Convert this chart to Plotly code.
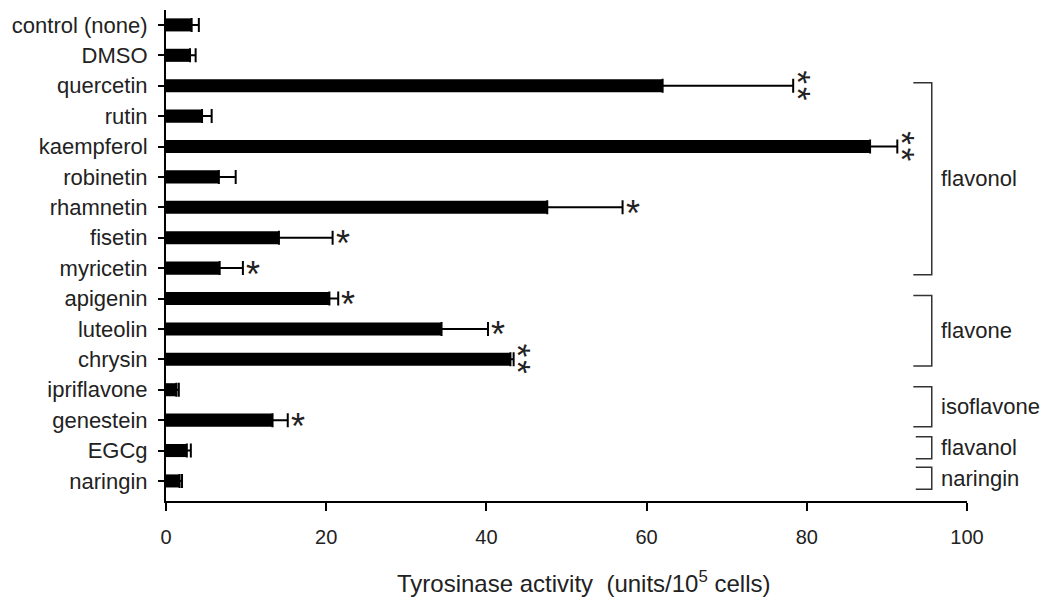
import plotly.graph_objects as go

categories = ["control (none)", "DMSO", "quercetin", "rutin", "kaempferol", "robinetin",
              "rhamnetin", "fisetin", "myricetin", "apigenin", "luteolin", "chrysin",
              "ipriflavone", "genestein", "EGCg", "naringin"]
values = [3.2, 3.0, 62.0, 4.5, 87.9, 6.6, 47.6, 14.1, 6.7, 20.4, 34.4, 43.0, 1.3, 13.3, 2.6, 1.7]
errors = [0.9, 0.7, 16.3, 1.2, 3.4, 2.1, 9.4, 6.7, 2.9, 1.1, 5.8, 0.4, 0.3, 1.9, 0.5, 0.3]
stars = [0, 0, 2, 0, 2, 0, 1, 1, 1, 1, 1, 2, 0, 1, 0, 0]
groups = [("flavonol", "quercetin", "myricetin"),
          ("flavone", "apigenin", "chrysin"),
          ("isoflavone", "ipriflavone", "genestein"),
          ("flavanol", "EGCg", "EGCg"),
          ("naringin", "naringin", "naringin")]
x_ticks = [0, 20, 40, 60, 80, 100]
x_title = "Tyrosinase activity  (units/10<sup>5</sup> cells)"

FONT = "Liberation Sans, Arial, sans-serif"
TXT = "#222222"
STAR = 36
n = len(categories)
pos = list(range(n))

fig = go.Figure()
fig.add_trace(go.Bar(
    orientation="h", y=pos, x=values, width=0.43,
    marker=dict(color="black", line=dict(width=0)),
    error_x=dict(type="data", symmetric=False, array=errors, arrayminus=[0] * n,
                 color="black", thickness=2, width=7),
    showlegend=False, hoverinfo="skip",
))

annotations = []
for i in range(n):
    end = values[i] + errors[i]
    if stars[i] == 1:
        annotations.append(dict(x=end, y=pos[i], xref="x", yref="y", text="*",
                                showarrow=False, xanchor="center", xshift=10, yshift=-6,
                                font=dict(family=FONT, size=STAR, color=TXT)))
    elif stars[i] == 2:
        annotations.append(dict(x=end, y=pos[i], xref="x", yref="y", text="*\u200a*",
                                showarrow=False, xanchor="center", yanchor="middle",
                                textangle=90, xshift=5, yshift=0,
                                font=dict(family=FONT, size=STAR - 1, color=TXT)))

shapes = []
for name, first, last in groups:
    a = categories.index(first)
    b = categories.index(last)
    single = a == b
    top = a - (0.45 if single else 0.1)
    bot = b + (0.27 if single else 0.22)
    xv = 95.6
    xl = 93.6 if single else 93.3
    shapes.append(dict(type="path", xref="x", yref="y",
                       path=f"M {xl},{top} L {xv},{top} L {xv},{bot} L {xl},{bot}",
                       line=dict(color="#333333", width=1.5)))
    annotations.append(dict(x=96.5, y=(top + bot) / 2, xref="x", yref="y", text=name,
                            showarrow=False, xanchor="left", yanchor="middle",
                            font=dict(family=FONT, size=22, color=TXT)))

annotations.append(dict(x=52.1, y=-0.165, xref="x", yref="paper", text=x_title,
                        showarrow=False, xanchor="center", yanchor="middle",
                        font=dict(family=FONT, size=24, color=TXT)))

fig.update_layout(
    width=1045, height=601,
    margin=dict(l=166, r=78, t=10, b=100),
    plot_bgcolor="white", paper_bgcolor="white",
    shapes=shapes, annotations=annotations,
    font=dict(family=FONT, color=TXT),
)
fig.update_xaxes(range=[0, 100], tickvals=x_ticks, ticks="outside", ticklen=8, tickwidth=2,
                 tickcolor="black", showline=True, linewidth=2, linecolor="black",
                 showgrid=False, zeroline=False, ticklabelstandoff=9,
                 tickfont=dict(family=FONT, size=20, color=TXT))
fig.update_yaxes(range=[15.66, -0.49], tickvals=pos, ticktext=categories, ticks="outside",
                 ticklen=6, tickwidth=2, tickcolor="black", showline=True, linewidth=2,
                 linecolor="black", showgrid=False, zeroline=False, ticklabelstandoff=6,
                 tickfont=dict(family=FONT, size=22, color=TXT))

fig.write_html("out.html")
